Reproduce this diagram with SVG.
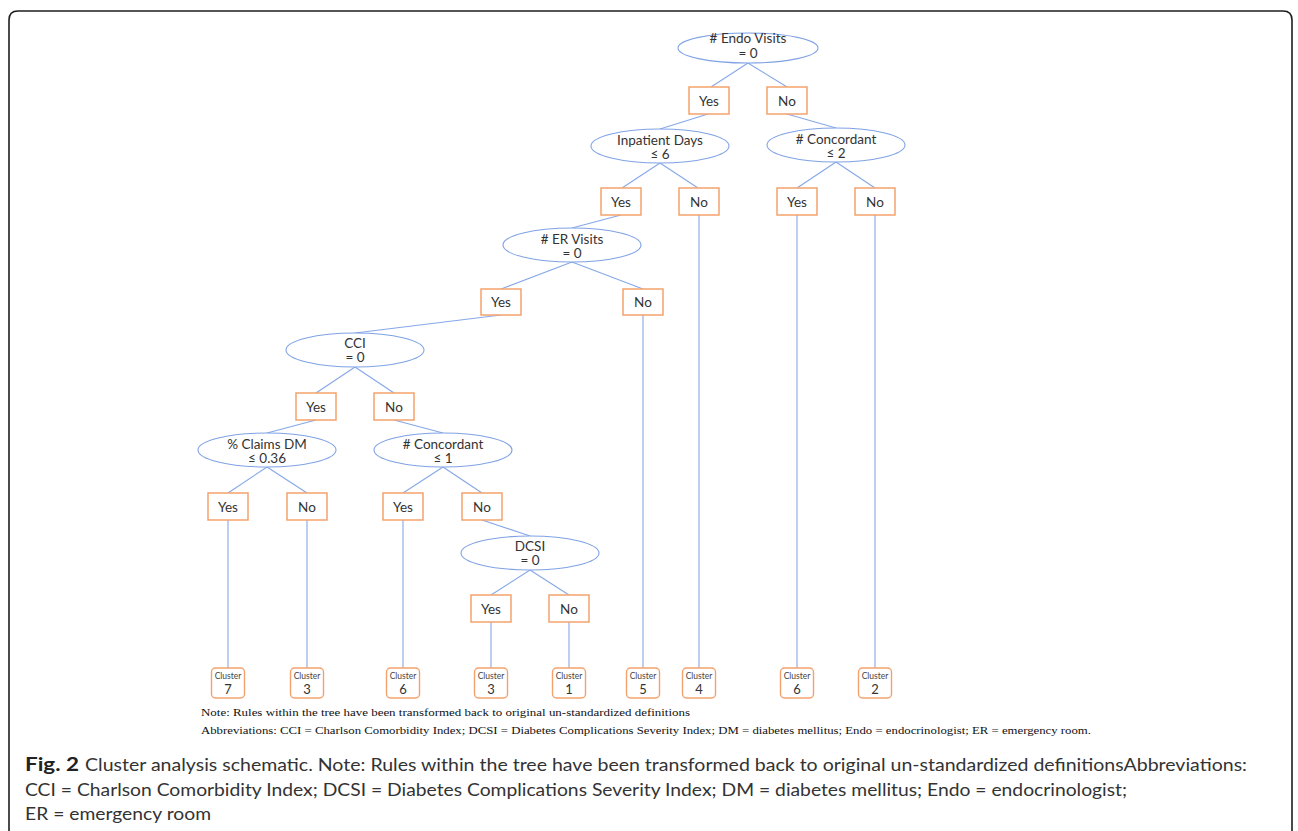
<svg xmlns="http://www.w3.org/2000/svg" width="1298" height="831" viewBox="0 0 1298 831">
<style>
.frame{fill:none;stroke:#1e1e1e;stroke-width:1.6}
.ell{fill:#fff;stroke:#7fa2e4;stroke-width:1.1}
.box{fill:#fff;stroke:#f4a26c;stroke-width:1.5}
.cl{fill:#fff;stroke:#f4a26c;stroke-width:1.4}
.con line{stroke:#86a8e8;stroke-width:1.1}
.t{font-family:Lato,"Open Sans",sans-serif;font-size:13.5px;fill:#333;text-anchor:middle;dominant-baseline:central}
.cs{font-family:Lato,"Open Sans",sans-serif;font-size:8.5px;fill:#444;text-anchor:middle;dominant-baseline:central}
.cn{font-family:Lato,"Open Sans",sans-serif;font-size:13px;fill:#333;text-anchor:middle;dominant-baseline:central}
.note{font-family:"Liberation Serif",serif;font-size:11px;fill:#111}
.cap{font-family:Lato,"Open Sans",sans-serif;font-size:17.5px;fill:#333}
.capb{font-family:Lato,"Open Sans",sans-serif;font-size:18px;font-weight:bold;fill:#222}
</style>
<rect width="1298" height="831" fill="#fff"/>
<path class="frame" d="M9,840 V20 Q9,11 18,11 H1283 Q1292,11 1292,20 V840"/>

<g id="connectors" class="con">
<line x1="748" y1="63" x2="711" y2="87"/>
<line x1="748" y1="63" x2="787" y2="87"/>
<line x1="708" y1="114" x2="660" y2="129"/>
<line x1="787" y1="114" x2="836" y2="128"/>
<line x1="660" y1="163" x2="622" y2="188"/>
<line x1="660" y1="163" x2="698" y2="188"/>
<line x1="621" y1="215" x2="572" y2="228"/>
<line x1="699" y1="215" x2="699" y2="668"/>
<line x1="836" y1="162" x2="797" y2="188"/>
<line x1="836" y1="162" x2="875" y2="188"/>
<line x1="797" y1="215" x2="797" y2="668"/>
<line x1="875" y1="215" x2="875" y2="668"/>
<line x1="572" y1="262" x2="501" y2="289"/>
<line x1="572" y1="262" x2="643" y2="289"/>
<line x1="501" y1="315" x2="355" y2="333"/>
<line x1="643" y1="315" x2="643" y2="668"/>
<line x1="355" y1="367" x2="316" y2="393"/>
<line x1="355" y1="367" x2="394" y2="393"/>
<line x1="316" y1="420" x2="267" y2="433"/>
<line x1="394" y1="420" x2="443" y2="433"/>
<line x1="267" y1="467" x2="228" y2="493"/>
<line x1="267" y1="467" x2="307" y2="493"/>
<line x1="228" y1="520" x2="228" y2="668"/>
<line x1="307" y1="520" x2="307" y2="668"/>
<line x1="443" y1="467" x2="403" y2="493"/>
<line x1="443" y1="467" x2="482" y2="493"/>
<line x1="403" y1="520" x2="403" y2="668"/>
<line x1="482" y1="520" x2="530" y2="536"/>
<line x1="530" y1="570" x2="491" y2="595"/>
<line x1="530" y1="570" x2="569" y2="595"/>
<line x1="491" y1="622" x2="491" y2="668"/>
<line x1="569" y1="622" x2="569" y2="668"/>
</g>

<g id="n-endo"><ellipse class="ell" cx="748" cy="48" rx="70" ry="15"/><text class="t" x="748" y="38"># Endo Visits</text><text class="t" x="748" y="52.5">= 0</text></g>
<g id="n-endo-yes"><rect class="box" x="689" y="87" width="40" height="27"/><text class="t" x="709" y="100.5">Yes</text></g>
<g id="n-endo-no"><rect class="box" x="767" y="87" width="40" height="27"/><text class="t" x="787" y="100.5">No</text></g>

<g id="n-inp"><ellipse class="ell" cx="660" cy="146" rx="69" ry="17"/><text class="t" x="660" y="139.5">Inpatient Days</text><text class="t" x="660" y="154">≤ 6</text></g>
<g id="n-inp-yes"><rect class="box" x="601" y="188" width="40" height="27"/><text class="t" x="621" y="201.5">Yes</text></g>
<g id="n-inp-no"><rect class="box" x="679" y="188" width="40" height="27"/><text class="t" x="699" y="201.5">No</text></g>

<g id="n-conc2"><ellipse class="ell" cx="836" cy="145" rx="69" ry="17"/><text class="t" x="836" y="138.5"># Concordant</text><text class="t" x="836" y="153">≤ 2</text></g>
<g id="n-conc2-yes"><rect class="box" x="777" y="188" width="40" height="27"/><text class="t" x="797" y="201.5">Yes</text></g>
<g id="n-conc2-no"><rect class="box" x="855" y="188" width="40" height="27"/><text class="t" x="875" y="201.5">No</text></g>

<g id="n-er"><ellipse class="ell" cx="572" cy="245" rx="69" ry="17"/><text class="t" x="572" y="238.5"># ER Visits</text><text class="t" x="572" y="253">= 0</text></g>
<g id="n-er-yes"><rect class="box" x="481" y="289" width="40" height="26"/><text class="t" x="501" y="302">Yes</text></g>
<g id="n-er-no"><rect class="box" x="623" y="289" width="40" height="26"/><text class="t" x="643" y="302">No</text></g>

<g id="n-cci"><ellipse class="ell" cx="355" cy="350" rx="69" ry="17"/><text class="t" x="355" y="342.5">CCI</text><text class="t" x="355" y="357">= 0</text></g>
<g id="n-cci-yes"><rect class="box" x="296" y="393" width="40" height="27"/><text class="t" x="316" y="406.5">Yes</text></g>
<g id="n-cci-no"><rect class="box" x="374" y="393" width="40" height="27"/><text class="t" x="394" y="406.5">No</text></g>

<g id="n-claims"><ellipse class="ell" cx="267" cy="450" rx="69" ry="17"/><text class="t" x="267" y="443.5">% Claims DM</text><text class="t" x="267" y="458">≤ 0.36</text></g>
<g id="n-claims-yes"><rect class="box" x="208" y="493" width="40" height="27"/><text class="t" x="228" y="506.5">Yes</text></g>
<g id="n-claims-no"><rect class="box" x="287" y="493" width="40" height="27"/><text class="t" x="307" y="506.5">No</text></g>

<g id="n-conc1"><ellipse class="ell" cx="443" cy="450" rx="69" ry="17"/><text class="t" x="443" y="443.5"># Concordant</text><text class="t" x="443" y="458">≤ 1</text></g>
<g id="n-conc1-yes"><rect class="box" x="383" y="493" width="40" height="27"/><text class="t" x="403" y="506.5">Yes</text></g>
<g id="n-conc1-no"><rect class="box" x="462" y="493" width="40" height="27"/><text class="t" x="482" y="506.5">No</text></g>

<g id="n-dcsi"><ellipse class="ell" cx="530" cy="553" rx="69" ry="17"/><text class="t" x="530" y="545.5">DCSI</text><text class="t" x="530" y="560">= 0</text></g>
<g id="n-dcsi-yes"><rect class="box" x="471" y="595" width="40" height="27"/><text class="t" x="491" y="608.5">Yes</text></g>
<g id="n-dcsi-no"><rect class="box" x="549" y="595" width="40" height="27"/><text class="t" x="569" y="608.5">No</text></g>

<g id="c7"><rect class="cl" x="211.5" y="668" width="33" height="30" rx="4"/><text class="cs" x="228" y="676">Cluster</text><text class="cn" x="228" y="689">7</text></g>
<g id="c3a"><rect class="cl" x="290.5" y="668" width="33" height="30" rx="4"/><text class="cs" x="307" y="676">Cluster</text><text class="cn" x="307" y="689">3</text></g>
<g id="c6a"><rect class="cl" x="386.5" y="668" width="33" height="30" rx="4"/><text class="cs" x="403" y="676">Cluster</text><text class="cn" x="403" y="689">6</text></g>
<g id="c3b"><rect class="cl" x="474.5" y="668" width="33" height="30" rx="4"/><text class="cs" x="491" y="676">Cluster</text><text class="cn" x="491" y="689">3</text></g>
<g id="c1"><rect class="cl" x="552.5" y="668" width="33" height="30" rx="4"/><text class="cs" x="569" y="676">Cluster</text><text class="cn" x="569" y="689">1</text></g>
<g id="c5"><rect class="cl" x="626.5" y="668" width="33" height="30" rx="4"/><text class="cs" x="643" y="676">Cluster</text><text class="cn" x="643" y="689">5</text></g>
<g id="c4"><rect class="cl" x="682.5" y="668" width="33" height="30" rx="4"/><text class="cs" x="699" y="676">Cluster</text><text class="cn" x="699" y="689">4</text></g>
<g id="c6b"><rect class="cl" x="780.5" y="668" width="33" height="30" rx="4"/><text class="cs" x="797" y="676">Cluster</text><text class="cn" x="797" y="689">6</text></g>
<g id="c2"><rect class="cl" x="858.5" y="668" width="33" height="30" rx="4"/><text class="cs" x="875" y="676">Cluster</text><text class="cn" x="875" y="689">2</text></g>

<g id="notes">
<text class="note" x="201" y="716" textLength="489" lengthAdjust="spacingAndGlyphs">Note: Rules within the tree have been transformed back to original un-standardized definitions</text>
<text class="note" x="201" y="734" textLength="890" lengthAdjust="spacingAndGlyphs">Abbreviations: CCI = Charlson Comorbidity Index; DCSI = Diabetes Complications Severity Index; DM = diabetes mellitus; Endo = endocrinologist; ER = emergency room.</text>
</g>

<g id="caption">
<text class="capb" x="25" y="771" textLength="54" lengthAdjust="spacingAndGlyphs">Fig. 2</text>
<text class="cap" x="85" y="771" textLength="1162" lengthAdjust="spacingAndGlyphs">Cluster analysis schematic. Note: Rules within the tree have been transformed back to original un-standardized definitionsAbbreviations:</text>
<text class="cap" x="25" y="796" textLength="1102" lengthAdjust="spacingAndGlyphs">CCI = Charlson Comorbidity Index; DCSI = Diabetes Complications Severity Index; DM = diabetes mellitus; Endo = endocrinologist;</text>
<text class="cap" x="25" y="820" textLength="186" lengthAdjust="spacingAndGlyphs">ER = emergency room</text>
</g>
</svg>
